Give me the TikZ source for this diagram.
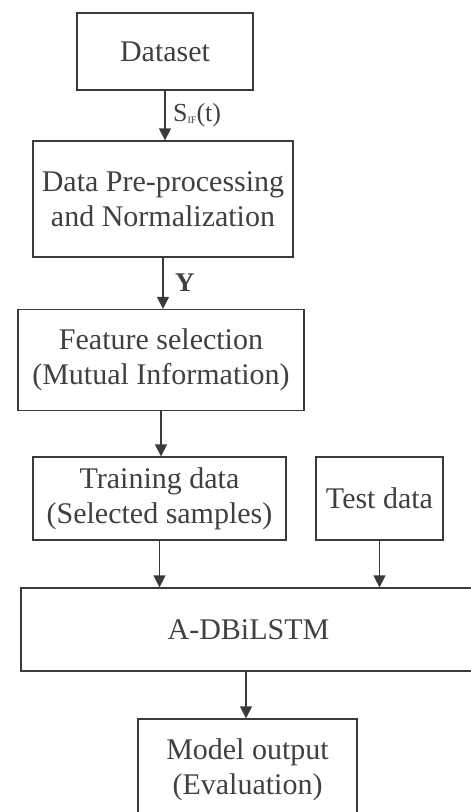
\documentclass[tikz,border=0pt]{standalone}
\usepackage{fontspec}
\setmainfont{Liberation Serif}
\usetikzlibrary{arrows.meta,positioning,calc}

\definecolor{linegray}{HTML}{3A3A3A}
\definecolor{textgray}{HTML}{404040}

\tikzset{
	blok/.style={draw=linegray, line width=1.3pt, text=textgray, align=center,
		inner sep=0pt, font=\fontsize{30}{35}\selectfont},
	tok/.style={draw=linegray, line width=1.3pt, -{Triangle[width=12pt,length=12pt]}},
	lbl/.style={anchor=west, inner sep=0pt, text=textgray},
}

\begin{document}
\begin{tikzpicture}[x=1pt,y=-1pt]
		\useasboundingbox (0,0) rectangle (471,812);
		\clip (0,0) rectangle (471,812);
		
		% Boxes
		\node [blok, minimum width=176pt, minimum height=77pt] (data) at (165,51.5) {Dataset};
		\node [blok, minimum width=260pt, minimum height=116pt] (prep) at (163,199) {Data Pre-processing\\and Normalization};
		\node [blok, minimum width=286pt, minimum height=101pt] (feat) at (161,360) {Feature selection\\(Mutual Information)};
		\node [blok, minimum width=253pt, minimum height=83pt] (train) at (159.5,498.5) {Training data\\(Selected samples)};
		\node [blok, minimum width=127pt, minimum height=83pt] (test) at (379.5,498.5) {Test data};
		\node [blok, minimum width=455pt, minimum height=83pt] (model) at (248.5,629.5) {A-DBiLSTM};
		\node [blok, minimum width=219pt, minimum height=101pt] (eval) at (247.5,769.5) {Model output\\(Evaluation)};
		
		% Arrows
		\draw [tok] (data.south) -- (data.south |- prep.north);
		\draw [tok] (prep.south) -- (prep.south |- feat.north);
		\draw [tok] (feat.south) -- (feat.south |- train.north);
		\draw [tok] (train.south) -- (train.south |- model.north);
		\draw [tok] (test.south) -- (test.south |- model.north);
		\draw [tok] ($(model.south)+(-2.5,0)$) coordinate (mout) -- (mout |- eval.north);
		
		% Arrow labels
		\node [lbl, font=\fontsize{26}{26}\selectfont] (sig) at (173,115) {S\raisebox{-0.1em}{\fontsize{10}{10}\selectfont IF}(t)};
		\node [lbl, font=\fontsize{27}{27}\selectfont\bfseries] (ylbl) at (175,283) {Y};
\end{tikzpicture}
\end{document}
